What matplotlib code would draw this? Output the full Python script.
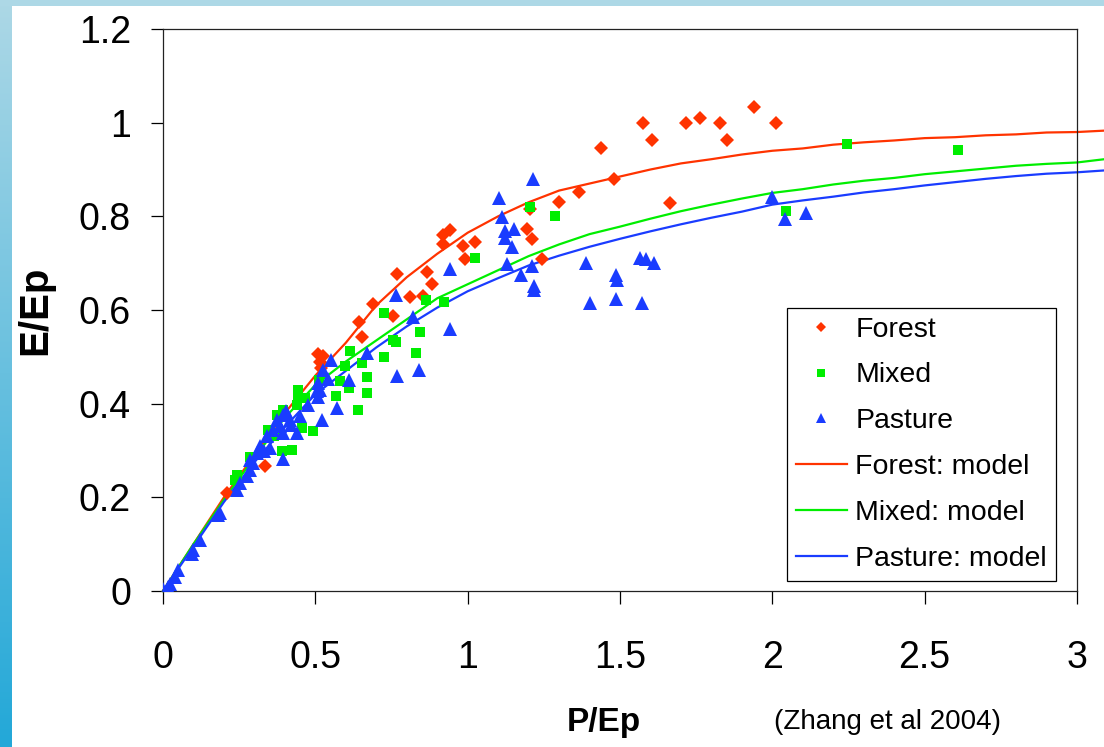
import matplotlib
matplotlib.use("Agg")
import matplotlib.pyplot as plt
import numpy as np
from matplotlib.patches import Rectangle

plt.rcParams['font.family'] = ['Liberation Sans', 'DejaVu Sans']

# observed data (P/Ep, E/Ep)
forest_x = [0.209, 0.335, 0.509, 0.515, 0.52, 0.526, 0.643, 0.653, 0.69, 0.756, 0.769,
            0.81, 0.852, 0.865, 0.882, 0.918, 0.918, 0.942, 0.986, 0.991, 1.024,
            1.194, 1.206, 1.21, 1.243, 1.30, 1.366, 1.436, 1.481, 1.576, 1.606,
            1.664, 1.718, 1.762, 1.828, 1.851, 1.941, 2.013]
forest_y = [0.209, 0.266, 0.507, 0.49, 0.477, 0.501, 0.575, 0.543, 0.612, 0.587, 0.676,
            0.628, 0.63, 0.681, 0.656, 0.761, 0.74, 0.77, 0.737, 0.709, 0.745,
            0.773, 0.816, 0.752, 0.709, 0.831, 0.851, 0.946, 0.879, 1.0, 0.963,
            0.829, 1.0, 1.009, 1.0, 0.963, 1.033, 1.0]

mixed_x = [0.236, 0.242, 0.286, 0.346, 0.365, 0.373, 0.389, 0.395, 0.425, 0.439, 0.444,
           0.444, 0.455, 0.466, 0.491, 0.513, 0.567, 0.581, 0.597, 0.61, 0.614,
           0.641, 0.652, 0.668, 0.668, 0.725, 0.727, 0.756, 0.765, 0.829, 0.843,
           0.863, 0.922, 1.024, 1.206, 1.287, 2.045, 2.244, 2.608]
mixed_y = [0.237, 0.248, 0.287, 0.344, 0.33, 0.376, 0.298, 0.387, 0.301, 0.398, 0.43,
           0.416, 0.348, 0.412, 0.341, 0.451, 0.417, 0.448, 0.48, 0.434, 0.512,
           0.386, 0.486, 0.458, 0.423, 0.50, 0.594, 0.535, 0.531, 0.508, 0.553,
           0.621, 0.617, 0.712, 0.82, 0.80, 0.811, 0.954, 0.942]

pasture_x = [0.001, 0.015, 0.023, 0.04, 0.05, 0.095, 0.1, 0.121, 0.18, 0.187, 0.242,
             0.253, 0.275, 0.286, 0.286, 0.296, 0.307, 0.318, 0.33, 0.34, 0.351,
             0.362, 0.373, 0.384, 0.393, 0.395, 0.395, 0.405, 0.417, 0.42, 0.439,
             0.45, 0.477, 0.505, 0.51, 0.51, 0.515, 0.521, 0.525, 0.543, 0.553,
             0.572, 0.612, 0.668, 0.764, 0.767, 0.822, 0.841, 0.942, 0.942, 1.104,
             1.114, 1.122, 1.122, 1.128, 1.146, 1.152, 1.175, 1.211, 1.215, 1.218,
             1.218, 1.39, 1.401, 1.486, 1.486, 1.491, 1.566, 1.571, 1.584, 1.613,
             2.0, 2.043, 2.109]
pasture_y = [0.004, 0.008, 0.016, 0.03, 0.045, 0.08, 0.088, 0.109, 0.163, 0.166, 0.216,
             0.23, 0.245, 0.259, 0.28, 0.273, 0.295, 0.309, 0.30, 0.33, 0.305,
             0.344, 0.366, 0.352, 0.282, 0.376, 0.337, 0.384, 0.366, 0.355, 0.337,
             0.373, 0.398, 0.426, 0.414, 0.444, 0.43, 0.366, 0.472, 0.453, 0.494,
             0.391, 0.45, 0.508, 0.633, 0.46, 0.585, 0.471, 0.687, 0.56, 0.84,
             0.799, 0.769, 0.754, 0.699, 0.735, 0.772, 0.674, 0.695, 0.88, 0.652,
             0.642, 0.70, 0.615, 0.674, 0.624, 0.665, 0.712, 0.614, 0.708, 0.70,
             0.842, 0.795, 0.808]

# model curves
model_x = [0, 0.1, 0.2, 0.3, 0.4, 0.5, 0.6, 0.7, 0.8, 0.9, 1.0, 1.1, 1.2, 1.3, 1.4, 1.5,
           1.6, 1.7, 1.8, 1.9, 2.0, 2.1, 2.2, 2.3, 2.4, 2.5, 2.6, 2.7, 2.8, 2.9, 3.0, 3.09]
forest_model = [0, 0.10, 0.20, 0.29, 0.38, 0.46, 0.53, 0.61, 0.67, 0.72, 0.765, 0.80,
                0.83, 0.855, 0.87, 0.885, 0.90, 0.913, 0.922, 0.932, 0.94, 0.945,
                0.953, 0.958, 0.962, 0.967, 0.969, 0.973, 0.975, 0.979, 0.98, 0.983]
mixed_model = [0, 0.10, 0.195, 0.285, 0.37, 0.44, 0.49, 0.535, 0.58, 0.625, 0.655, 0.685,
               0.715, 0.74, 0.762, 0.778, 0.795, 0.811, 0.825, 0.838, 0.85, 0.858,
               0.868, 0.876, 0.882, 0.89, 0.896, 0.902, 0.908, 0.912, 0.915, 0.922]
pasture_model = [0, 0.095, 0.19, 0.275, 0.35, 0.42, 0.47, 0.52, 0.565, 0.605, 0.64, 0.668,
                 0.695, 0.716, 0.735, 0.752, 0.768, 0.783, 0.797, 0.81, 0.825, 0.834,
                 0.842, 0.851, 0.858, 0.866, 0.873, 0.88, 0.886, 0.891, 0.894, 0.898]

red = '#ff3300'
green = '#00ee00'
blue = '#1a3cff'

W, H = 1104, 747
fig = plt.figure(figsize=(W / 100, H / 100), dpi=100)

# slide decoration strips
bg = fig.add_axes([0, 0, 12 / W, 1])
grad = np.linspace(0, 1, 256).reshape(-1, 1)
cmap = matplotlib.colors.LinearSegmentedColormap.from_list('strip', ['#add8e6', '#23a8d8'])
bg.imshow(grad, aspect='auto', cmap=cmap, extent=[0, 1, 0, 1], origin='upper')
bg.axis('off')
fig.add_artist(Rectangle((0, 1 - 6 / H), 1, 6 / H, transform=fig.transFigure,
                         color='#add8e6', lw=0))

ax = fig.add_axes([163 / W, 1 - 591 / H, (1077 - 163) / W, (591 - 29) / H])

ax.plot(model_x, forest_model, color=red, lw=1.6, clip_on=False, label='Forest: model', zorder=2)
ax.plot(model_x, mixed_model, color=green, lw=1.6, clip_on=False, label='Mixed: model', zorder=2)
ax.plot(model_x, pasture_model, color=blue, lw=1.6, clip_on=False, label='Pasture: model', zorder=2)

ax.plot(forest_x, forest_y, 'D', color=red, ms=7.5, mew=0, label='Forest', zorder=3)
ax.plot(mixed_x, mixed_y, 's', color=green, ms=7.5, mew=0, label='Mixed', zorder=4)
ax.plot(pasture_x, pasture_y, '^', color=blue, ms=9.5, mew=0, label='Pasture', zorder=5)

ax.set_xlim(0, 3)
ax.set_ylim(0, 1.2)
ax.set_xticks([0, 0.5, 1, 1.5, 2, 2.5, 3])
ax.set_xticklabels(['0', '0.5', '1', '1.5', '2', '2.5', '3'])
ax.set_yticks([0, 0.2, 0.4, 0.6, 0.8, 1, 1.2])
ax.set_yticklabels(['0', '0.2', '0.4', '0.6', '0.8', '1', '1.2'])
ax.tick_params(axis='both', direction='out', length=9, width=0.9, labelsize=27, color='black')
ax.tick_params(axis='y', pad=14)
ax.tick_params(axis='x', pad=26)
for s in ax.spines.values():
    s.set_linewidth(0.9)
    s.set_color('#222222')

handles, labels = ax.get_legend_handles_labels()
order = [3, 4, 5, 0, 1, 2]
leg = ax.legend([handles[i] for i in order], [labels[i] for i in order],
                loc='upper left', bbox_to_anchor=(787 / W, 1 - 308 / H),
                bbox_transform=fig.transFigure, borderaxespad=0, fontsize=20.5,
                frameon=True, fancybox=False, edgecolor='black', framealpha=1,
                handlelength=1.8, handletextpad=0.3, labelspacing=0.7,
                borderpad=0.3, markerscale=0.7)
leg.get_frame().set_linewidth(0.9)

fig.text(35 / W, 1 - 310 / H, 'E/Ep', rotation=90, fontsize=29, fontweight='bold',
         ha='center', va='center')
fig.text(604 / W, 1 - 722 / H, 'P/Ep', fontsize=24, fontweight='bold',
         ha='center', va='center')
fig.text(887 / W, 1 - 722 / H, '(Zhang et al 2004)', fontsize=20, ha='center', va='center')

fig.savefig('out.png', dpi=100)
